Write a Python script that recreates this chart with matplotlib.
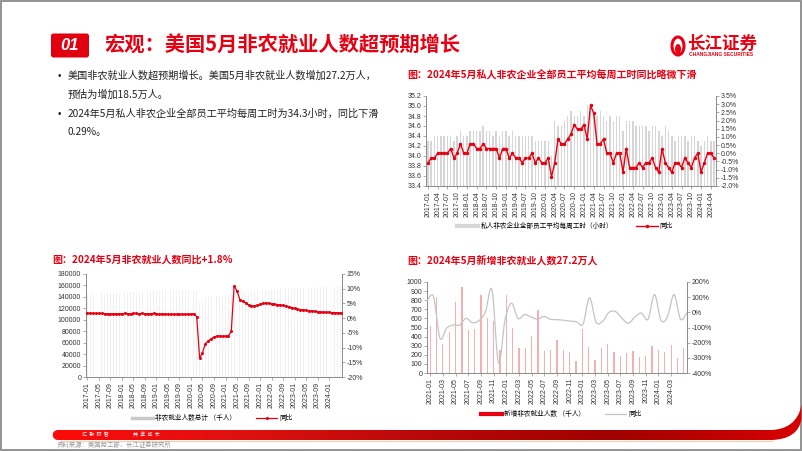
import numpy as np
import matplotlib
matplotlib.use("Agg")
import matplotlib.pyplot as plt
from matplotlib.patches import FancyBboxPatch, Rectangle, PathPatch, Ellipse
from matplotlib.path import Path
from matplotlib.lines import Line2D
from matplotlib.colors import LinearSegmentedColormap

plt.rcParams['font.family'] = ['Liberation Sans', 'Noto Sans CJK SC', 'DejaVu Sans']
plt.rcParams['axes.unicode_minus'] = False

W, H = 802, 451
RED = '#e60012'
GRID = '#8c8c8c'
TXT = '#333333'
CJK = ['Noto Sans CJK SC', 'DejaVu Sans']


def month_labels(year, month, n):
    out = []
    for _ in range(n):
        out.append(f"{year}-{month:02d}")
        month += 1
        if month > 12:
            month = 1
            year += 1
    return out


# ---- chart 1: weekly hours (2017-01 .. 2024-05) ----
months1 = month_labels(2017, 1, 89)
hours = [34.3, 34.3, 34.4, 34.4, 34.4, 34.4, 34.4, 34.4, 34.3, 34.4, 34.5, 34.4,
         34.4, 34.5, 34.5, 34.5, 34.5, 34.6, 34.5, 34.5, 34.4, 34.5, 34.4, 34.5,
         34.5, 34.4, 34.5, 34.4, 34.4, 34.4, 34.4, 34.4, 34.4, 34.3, 34.3, 34.3,
         34.3, 34.3, 34.0, 34.7, 34.6, 34.6, 34.7, 34.8, 34.9, 34.8, 34.8, 34.9,
         34.8, 35.0, 34.9, 34.9, 34.8, 34.9, 34.8, 34.7, 34.8, 34.7, 34.8, 34.8,
         34.5, 34.7, 34.7, 34.7, 34.6, 34.6, 34.6, 34.6, 34.5, 34.6, 34.6, 34.5,
         34.4, 34.6, 34.5, 34.4, 34.3, 34.4, 34.4, 34.4, 34.3, 34.4, 34.4, 34.3,
         34.2, 34.3, 34.4, 34.3, 34.3]
hours_yoy = [-0.58, -0.29, -0.29, 0.0, 0.0, 0.0, 0.0, 0.29, -0.29, 0.0, 0.58, 0.0,
             0.0, 0.58, 0.58, 0.29, 0.29, 0.58, 0.29, 0.29, 0.29, 0.29, -0.29, 0.29,
             0.29, -0.29, 0.0, -0.29, -0.29, -0.58, -0.29, -0.29, 0.0, -0.58, -0.29, -0.58,
             -0.58, -0.29, -1.46, -0.58, 0.87, 0.58, 0.58, 0.87, 1.17, 1.75, 1.46, 1.46,
             1.75, 0.87, 2.92, 2.45, 0.58, 0.58, 0.87, 0.0, 0.0, -0.58, 0.0, 0.0,
             -1.16, 0.29, -0.87, -0.87, -0.87, -0.58, -0.87, -0.58, -0.58, -0.29, -0.87, -1.16,
             0.29, -0.58, -0.87, -1.16, -0.58, -0.58, -0.87, -0.29, -0.58, -0.87, -0.29, 0.0,
             -1.16, -0.58, 0.0, 0.0, -0.29]

# ---- chart 2: total nonfarm (thousands) and yoy ----
months2 = month_labels(2017, 1, 89)
payrolls = [145600, 145800, 146000, 146200, 146300, 146600, 146800, 146900, 147000, 147200, 147400, 147500,
            147700, 148000, 148200, 148300, 148600, 148800, 148900, 149100, 149200, 149400, 149600, 149800,
            150000, 150100, 150200, 150400, 150500, 150700, 150900, 151000, 151200, 151400, 151600, 151600,
            152100, 152400, 151000, 130400, 133000, 137600, 139000, 140700, 141600, 142200, 142400, 142200,
            142700, 143400, 144100, 144400, 144900, 145500, 146600, 147100, 147500, 148200, 148900, 149500,
            149900, 150800, 151200, 151600, 152000, 152300, 152800, 153100, 153400, 153700, 154000, 154300,
            154800, 155000, 155200, 155500, 155800, 156000, 156200, 156400, 156700, 156900, 157000, 157300,
            157600, 157800, 158100, 158300, 158500]
payrolls_yoy = [1.7, 1.7, 1.6, 1.6, 1.6, 1.6, 1.5, 1.5, 1.4, 1.5, 1.5, 1.5,
                1.5, 1.6, 1.5, 1.5, 1.6, 1.6, 1.5, 1.6, 1.5, 1.5, 1.5, 1.6,
                1.5, 1.4, 1.4, 1.4, 1.3, 1.3, 1.3, 1.3, 1.3, 1.3, 1.3, 1.3,
                1.4, 1.5, 0.5, -13.6, -11.7, -8.7, -7.8, -7.0, -6.4, -6.1, -6.0, -6.2,
                -6.1, -6.0, -4.5, 11.0, 9.2, 6.3, 5.7, 5.2, 4.5, 4.2, 4.1, 4.3,
                4.7, 5.0, 5.1, 5.0, 4.9, 4.8, 4.6, 4.5, 4.3, 4.1, 3.9, 3.6,
                3.3, 3.1, 2.9, 2.8, 2.6, 2.5, 2.4, 2.3, 2.2, 2.1, 2.0, 2.0,
                2.0, 1.9, 1.9, 1.8, 1.8]

# ---- chart 3: monthly change (2021-01 .. 2024-05) ----
months3 = month_labels(2021, 1, 41)
new_jobs = [520, 830, 320, 450, 780, 940, 470, 480, 860, 600, 570, 250,
            860, 500, 270, 280, 410, 690, 240, 250, 365, 255, 230, 135,
            480, 285, 140, 280, 320, 236, 190, 225, 244, 171, 182, 298,
            255, 236, 309, 164, 272]
new_jobs_yoy = [75, 102, -171, -105, -84, -84, -40, -68, -55, 5, 146, -334,
                -52, 60, -40, -15, -30, -45, -27, -46, -48, -52, -58, -62,
                -78, 96, -65, -60, 0, 5, -40, -72, -30, -5, -46, 117,
                -52, -28, 117, -45, -2]

bullets = [
    ('•', '美国非农就业人数超预期增长。美国5月非农就业人数增加27.2万人，'),
    ('', '预估为增加18.5万人。'),
    ('•', '2024年5月私人非农企业全部员工平均每周工时为34.3小时，同比下滑'),
    ('', '0.29%。'),
]


def px_rect(x0, y0, x1, y1):
    return [x0 / W, 1 - y1 / H, (x1 - x0) / W, (y1 - y0) / H]


def style_axes(ax):
    ax.spines['top'].set_visible(False)
    for s in ['left', 'right', 'bottom']:
        ax.spines[s].set_color(GRID)
        ax.spines[s].set_linewidth(0.6)
    ax.tick_params(axis='both', labelsize=5, length=2, width=0.5, color=GRID,
                   labelcolor=TXT, pad=1.5)
    ax.set_facecolor('none')


def smooth_path(xs, ys):
    # Catmull-Rom style curve through the points (like a smoothed Excel line)
    pts = np.column_stack([xs, ys]).astype(float)
    verts = [pts[0]]
    codes = [Path.MOVETO]
    n = len(pts)
    for i in range(n - 1):
        p0 = pts[i - 1] if i > 0 else pts[i]
        p1 = pts[i]
        p2 = pts[i + 1]
        p3 = pts[i + 2] if i + 2 < n else pts[i + 1]
        verts += [p1 + (p2 - p0) / 6.0, p2 - (p3 - p1) / 6.0, p2]
        codes += [Path.CURVE4] * 3
    return Path(verts, codes)


fig = plt.figure(figsize=(W / 100, H / 100), dpi=100)
fig.patch.set_facecolor('white')

# decoration layer in pixel coordinates
bg = fig.add_axes([0, 0, 1, 1])
bg.set_xlim(0, W)
bg.set_ylim(H, 0)
bg.axis('off')
bg.add_patch(Rectangle((0.6, 0.6), W - 1.6, H - 1.6, fill=False, ec='#8a8a8a', lw=1.3))

bg.add_patch(FancyBboxPatch((51, 33.5), 38, 24, boxstyle='round,pad=0,rounding_size=2.5',
                            fc='#e0000f', ec='none'))
bg.text(70, 46, '01', color='white', fontsize=12, fontweight='bold', style='italic',
        ha='center', va='center', family='Liberation Sans')
bg.text(104, 45, '宏观：美国5月非农就业人数超预期增长', color=RED, fontsize=14.6,
        fontweight='bold', va='center', family=CJK)

# logo
bg.add_patch(Ellipse((678, 46), 12, 18, fc='none', ec=RED, lw=2.2))
bg.add_patch(Ellipse((678, 49), 6, 10, fc=RED, ec='none'))
bg.text(687, 44, '长江证券', color=RED, fontsize=12.6, fontweight='bold', va='center',
        family=CJK)
bg.text(689, 55, 'CHANGJIANG SECURITIES', color=RED, fontsize=3.5, fontweight='bold',
        va='center')

# bullet text
for i, (mark, line) in enumerate(bullets):
    y = [76, 95, 114, 132][i]
    if mark:
        bg.text(58, y, mark, fontsize=7, color='#222222', va='center')
    bg.text(68, y, line, fontsize=7.3, color='#222222', va='center', family=CJK)

# chart titles
for (x, y, t) in [(407, 75, '图：2024年5月私人非农企业全部员工平均每周工时同比略微下滑'),
                  (52, 260, '图：2024年5月非农就业人数同比+1.8%'),
                  (407, 260, '图：2024年5月新增非农就业人数27.2万人')]:
    bg.text(x, y, t, color=RED, fontsize=7.2, fontweight='bold', va='center', family=CJK)

# footer swoosh with gradient
verts = [(58, 430), (770, 430), (786, 430), (799, 422), (801.5, 404),
         (801.5, 418), (800, 432), (789, 440), (770, 440), (58, 440),
         (51, 440), (51, 430), (58, 430), (58, 430)]
codes = [Path.MOVETO, Path.LINETO, Path.CURVE4, Path.CURVE4, Path.CURVE4,
         Path.LINETO, Path.CURVE4, Path.CURVE4, Path.CURVE4, Path.LINETO,
         Path.CURVE4, Path.CURVE4, Path.CURVE4, Path.CLOSEPOLY]
swoosh = PathPatch(Path(verts, codes), fc='none', ec='none')
bg.add_patch(swoosh)
cmap = LinearSegmentedColormap.from_list('sw', ['#ff0a0a', '#e01010', '#b80808', '#a00000', '#d80000'])
grad = np.linspace(0, 1, 256).reshape(1, -1)
im = bg.imshow(grad, extent=[50, 802, 445, 400], cmap=cmap, aspect='auto', zorder=1)
im.set_clip_path(swoosh)
bg.plot([60, 772], [441, 441], color='#f6cfae', lw=0.8, zorder=1)
bg.text(82, 435, '汇  聚  财  智', color='white', fontsize=3.6, va='center', zorder=2, family=CJK)
bg.text(133, 435, '共  享  成  长', color='white', fontsize=3.6, va='center', zorder=2, family=CJK)
bg.text(57, 445, '资料来源：美国劳工部，长江证券研究所', color='#9a9a9a', fontsize=4.6,
        va='center', zorder=2, family=CJK)

legend_font = {'family': CJK, 'size': 4.8}

# ---------------- chart 1 ----------------
ax1 = fig.add_axes(px_rect(426, 96, 716, 186))
x1 = np.arange(len(hours))
ax1.bar(x1, hours, width=0.45, color='#d6d6d6', zorder=1)
t1 = np.round(np.arange(33.4, 35.21, 0.2), 1)
ax1.set_ylim(33.4, 35.2)
ax1.set_yticks(t1)
ax1.set_yticklabels([f'{v:.1f}' for v in t1])
ax1.set_xlim(-0.6, len(hours) - 0.4)
ax1.set_xticks(x1[::3])
ax1.set_xticklabels(months1[::3], rotation=90)
style_axes(ax1)
ax1r = ax1.twinx()
line1, = ax1r.plot(x1, hours_yoy, color=RED, lw=1.0, marker='o', ms=1.5, zorder=3)
r1 = np.arange(-2.0, 3.51, 0.5)
ax1r.set_ylim(-2.0, 3.5)
ax1r.set_yticks(r1)
ax1r.set_yticklabels([f'{v:.1f}%' for v in r1])
style_axes(ax1r)
fig.legend([Line2D([], [], color='#d6d6d6', lw=3), line1],
           ['私人非农企业全部员工平均每周工时（小时）', '同比'],
           loc='center', bbox_to_anchor=(565 / W, 1 - 226 / H), ncol=2, frameon=False,
           prop=legend_font, handlelength=3.2, columnspacing=3.5, handletextpad=0.3)

# ---------------- chart 2 ----------------
ax2 = fig.add_axes(px_rect(86, 274, 342, 377))
x2 = np.arange(len(payrolls))
ax2.bar(x2, payrolls, width=0.3, color='#f1f1f1', zorder=1)
ax2.set_ylim(0, 180000)
ax2.set_yticks(np.arange(0, 180001, 20000))
ax2.set_xlim(-0.5, len(payrolls) - 0.5)
ax2.set_xticks(x2[::4][:22])
ax2.set_xticklabels(months2[::4][:22], rotation=90)
style_axes(ax2)
ax2r = ax2.twinx()
line2, = ax2r.plot(x2, payrolls_yoy, color=RED, lw=0.9, marker='o', ms=1.2, zorder=3)
r2 = np.arange(-20, 16, 5)
ax2r.set_ylim(-20, 15)
ax2r.set_yticks(r2)
ax2r.set_yticklabels([f'{v}%' for v in r2])
style_axes(ax2r)
fig.legend([Line2D([], [], color='#c8c8c8', lw=2.5), line2],
           ['非农就业人数总计 （千人）', '同比'],
           loc='center', bbox_to_anchor=(212 / W, 1 - 418 / H), ncol=2, frameon=False,
           prop=legend_font, handlelength=3.2, columnspacing=3.0, handletextpad=0.3)

# ---------------- chart 3 ----------------
ax3 = fig.add_axes(px_rect(427, 282, 687, 373))
n3 = len(new_jobs)
x3 = np.arange(n3)
ax3.bar(x3, new_jobs, width=0.2, color='#f4b0b0', zorder=1)
ax3.set_ylim(0, 1000)
ax3.set_yticks(np.arange(0, 1001, 100))
ax3.set_xlim(-0.5, n3 - 0.5)
ax3.set_xticks(x3[::2][:20])
ax3.set_xticklabels(months3[::2][:20], rotation=90)
style_axes(ax3)
# line sits on a secondary category axis that runs edge to edge
ax3r = ax3.twinx()
x3_line = -0.5 + x3 * n3 / (n3 - 1)
ax3r.add_patch(PathPatch(smooth_path(x3_line, new_jobs_yoy), fc='none', ec='#c4c4c4',
                         lw=0.9, zorder=3))
r3 = np.arange(-400, 201, 100)
ax3r.set_ylim(-400, 200)
ax3r.set_yticks(r3)
ax3r.set_yticklabels([f'{v}%' for v in r3])
style_axes(ax3r)
fig.legend([Line2D([], [], color=RED, lw=3), Line2D([], [], color='#c4c4c4', lw=0.9)],
           ['新增非农就业人数 （千人）', '同比'],
           loc='center', bbox_to_anchor=(561 / W, 1 - 414 / H), ncol=2, frameon=False,
           prop=legend_font, handlelength=3.2, columnspacing=3.0, handletextpad=0.3)

fig.savefig('out.png', dpi=100, facecolor='white')
